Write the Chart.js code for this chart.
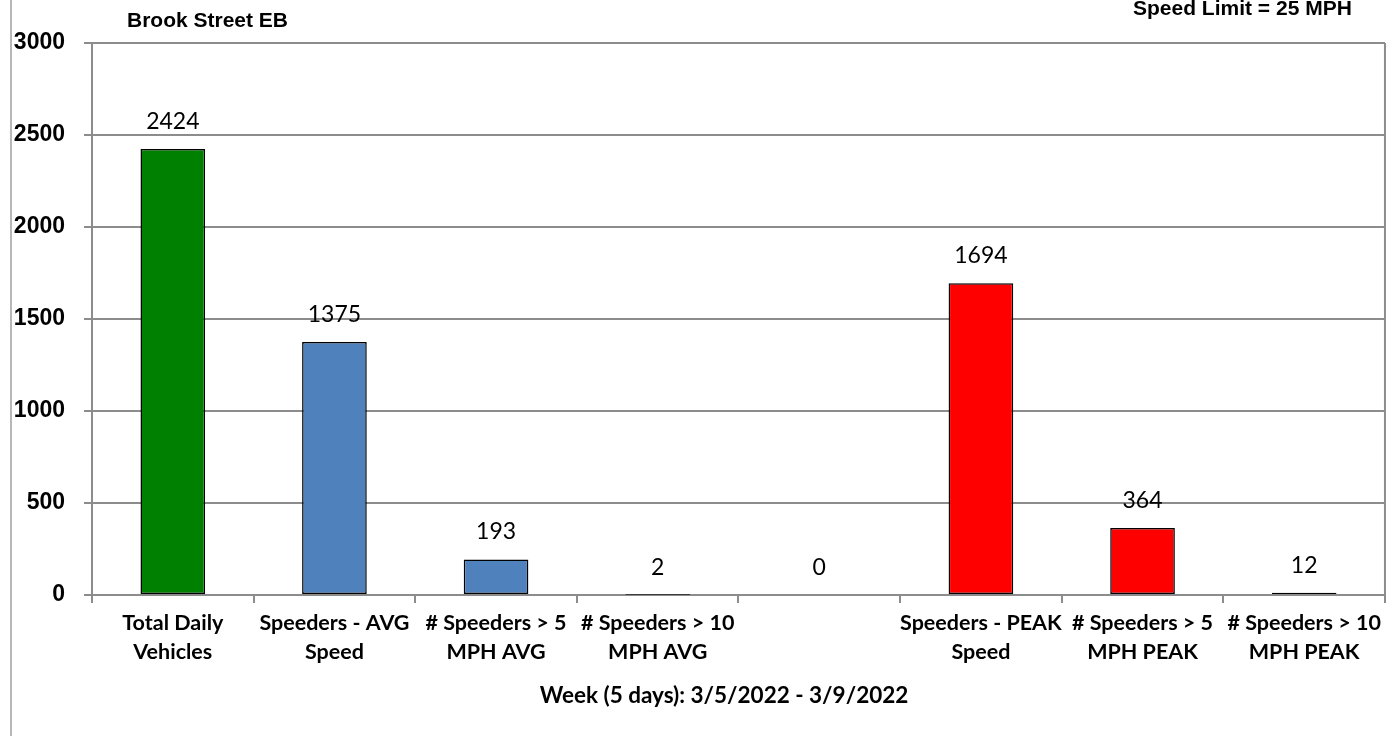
<!DOCTYPE html>
<html>
<head>
<meta charset="utf-8">
<title>Brook Street EB</title>
<script src="https://cdn.jsdelivr.net/npm/chart.js@4/dist/chart.umd.min.js"></script>
<style>
    html, body { margin: 0; padding: 0; background: #fff; }
    #wrap { width: 1387px; height: 736px; position: relative; }
</style>
</head>
<body>
<div id="wrap"><canvas id="speedChart"></canvas></div>
<script>
// Data
const categories = [
    ['Total Daily', 'Vehicles'],
    ['Speeders - AVG', 'Speed'],
    ['# Speeders > 5', 'MPH AVG'],
    ['# Speeders > 10', 'MPH AVG'],
    '',
    ['Speeders - PEAK', 'Speed'],
    ['# Speeders > 5', 'MPH PEAK'],
    ['# Speeders > 10', 'MPH PEAK']
];
const counts = [2424, 1375, 193, 2, 0, 1694, 364, 12];
const barColors = ['#008000', '#4f81bd', '#4f81bd', '#4f81bd', '#4f81bd', '#ff0000', '#ff0000', '#ff0000'];
const yTicks = [0, 500, 1000, 1500, 2000, 2500, 3000];

const chartTitle = 'Brook Street EB';
const limitNote = 'Speed Limit = 25 MPH';
const xTitle = 'Week (5 days): 3/5/2022 - 3/9/2022';

const gridColor = '#8c8c8c';

// Titles, frame lines and value labels
const decorPlugin = {
    id: 'decor',
    afterDraw: function(chart) {
        const ctx = chart.ctx;
        const area = chart.chartArea;
        ctx.save();

        // outer left frame line
        ctx.strokeStyle = '#a0a0a0';
        ctx.lineWidth = 1.5;
        ctx.beginPath();
        ctx.moveTo(11, 0);
        ctx.lineTo(11, 736);
        ctx.stroke();

        // right side of plot box
        ctx.strokeStyle = gridColor;
        ctx.lineWidth = 2;
        ctx.beginPath();
        ctx.moveTo(area.right, area.top);
        ctx.lineTo(area.right, area.bottom);
        ctx.stroke();

        ctx.fillStyle = '#000';
        ctx.font = 'bold 21px "Liberation Sans", Arial, sans-serif';
        ctx.textBaseline = 'alphabetic';
        ctx.textAlign = 'left';
        ctx.fillText(chartTitle, 127, 27);
        ctx.fillText(limitNote, 1133, 15);

        ctx.font = 'bold 22.5px Lato, sans-serif';
        ctx.textAlign = 'center';
        ctx.fillText(xTitle, 724, 703);

        // value labels above bars
        ctx.font = '23px Lato, sans-serif';
        const meta = chart.getDatasetMeta(0);
        meta.data.forEach(function(bar, i) {
            ctx.fillText(String(counts[i]), bar.x, bar.y - 20);
        });
        ctx.restore();
    }
};

new Chart(document.getElementById('speedChart'), {
    type: 'bar',
    data: {
        labels: categories,
        datasets: [{
            data: counts,
            backgroundColor: barColors,
            borderColor: '#000',
            borderWidth: 1.5,
            borderSkipped: false,
            barPercentage: 0.8,
            categoryPercentage: 0.5
        }]
    },
    options: {
        responsive: true,
        maintainAspectRatio: false,
        animation: false,
        layout: { padding: { left: 12, right: 2, top: 43, bottom: 0 } },
        plugins: {
            legend: { display: false },
            tooltip: { enabled: false }
        },
        scales: {
            x: {
                grid: {
                    offset: true,
                    drawOnChartArea: false,
                    drawTicks: true,
                    tickLength: 8,
                    color: gridColor,
                    lineWidth: 2
                },
                border: { display: true, color: gridColor, width: 2 },
                ticks: {
                    color: '#000',
                    font: { family: 'Lato', size: 21.5, weight: 'bold', lineHeight: 1.35 },
                    padding: 6,
                    maxRotation: 0,
                    autoSkip: false
                },
                afterFit: function(scale) { scale.height = 141; }
            },
            y: {
                min: 0,
                max: 3000,
                afterBuildTicks: function(scale) {
                    scale.ticks = yTicks.map(function(v) { return { value: v }; });
                },
                grid: {
                    color: gridColor,
                    lineWidth: 2,
                    tickLength: 8
                },
                border: { display: true, color: gridColor, width: 2 },
                ticks: {
                    color: '#000',
                    font: { family: '"Liberation Sans", Arial', size: 23, weight: 'bold' },
                    padding: 19,
                    callback: function(value) { return String(value); }
                },
                afterFit: function(scale) { scale.width = 80; }
            }
        }
    },
    plugins: [decorPlugin]
});
</script>
</body>
</html>
